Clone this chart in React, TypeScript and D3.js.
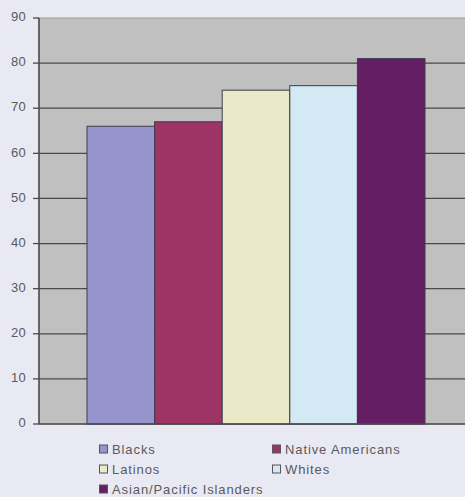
import React from "react";
import * as d3 from "d3";

const series = ["Blacks", "Native Americans", "Latinos", "Whites", "Asian/Pacific Islanders"];
const values = [66, 67, 74, 75, 81];
const colors = ["#9594cc", "#9e3366", "#eaeac8", "#d3e9f3", "#641e64"];
const yTicks = [0, 10, 20, 30, 40, 50, 60, 70, 80, 90];

const W = 465;
const H = 497;
const left = 39;
const right = 473;
const top = 18;
const bottom = 424;

export default function App() {
  const y = d3.scaleLinear().domain([0, 90]).range([bottom, top]);
  const x = d3.scaleBand<string>().domain(series).range([87, 425]).paddingInner(0);
  const legendPos = [
    { x: 99, y: 449 },
    { x: 272, y: 449 },
    { x: 99, y: 469 },
    { x: 272, y: 469 },
    { x: 99, y: 489 },
  ];
  return (
    <svg
      width={W}
      height={H}
      style={{ position: "absolute", left: 0, top: 0, background: "#e9e9f3" }}
      fontFamily="Liberation Sans, Arial, sans-serif"
    >
      <rect x={0} y={0} width={W} height={H} fill="#e9e9f3" />
      <rect x={left} y={top} width={right - left} height={bottom - top} fill="#c0c0c0" stroke="#9a9a9a" strokeWidth={1} />
      {yTicks.map((t) => (
        <g key={t}>
          {t > 0 && t < 90 && (
            <line x1={left} x2={right} y1={y(t)} y2={y(t)} stroke="#4a4a4a" strokeWidth={1.3} />
          )}
          <line x1={33} x2={left} y1={y(t)} y2={y(t)} stroke="#4a4a4a" strokeWidth={1.3} />
          <text x={26} y={y(t)} dy="0.25em" textAnchor="end" fontSize={13} letterSpacing={0.3} fill="#5a5a5a">
            {t}
          </text>
        </g>
      ))}
      {series.map((s, i) => (
        <rect
          key={s}
          x={x(s)}
          y={y(values[i])}
          width={x.bandwidth()}
          height={bottom - y(values[i])}
          fill={colors[i]}
          stroke="#3c3c4c"
          strokeWidth={1}
        />
      ))}
      <line x1={left} x2={left} y1={top} y2={bottom} stroke="#4a4a4a" strokeWidth={1.5} />
      <line x1={left} x2={right} y1={bottom} y2={bottom} stroke="#4a4a4a" strokeWidth={1.5} />
      {series.map((s, i) => (
        <g key={s} transform={`translate(${legendPos[i].x},${legendPos[i].y})`}>
          <rect x={0.5} y={-4} width={8} height={8} fill={colors[i]} stroke="#555" strokeWidth={1} />
          <text x={13} y={0} dy="0.36em" fontSize={13} letterSpacing={0.9} fill="#5a5a5a">
            {s}
          </text>
        </g>
      ))}
    </svg>
  );
}
